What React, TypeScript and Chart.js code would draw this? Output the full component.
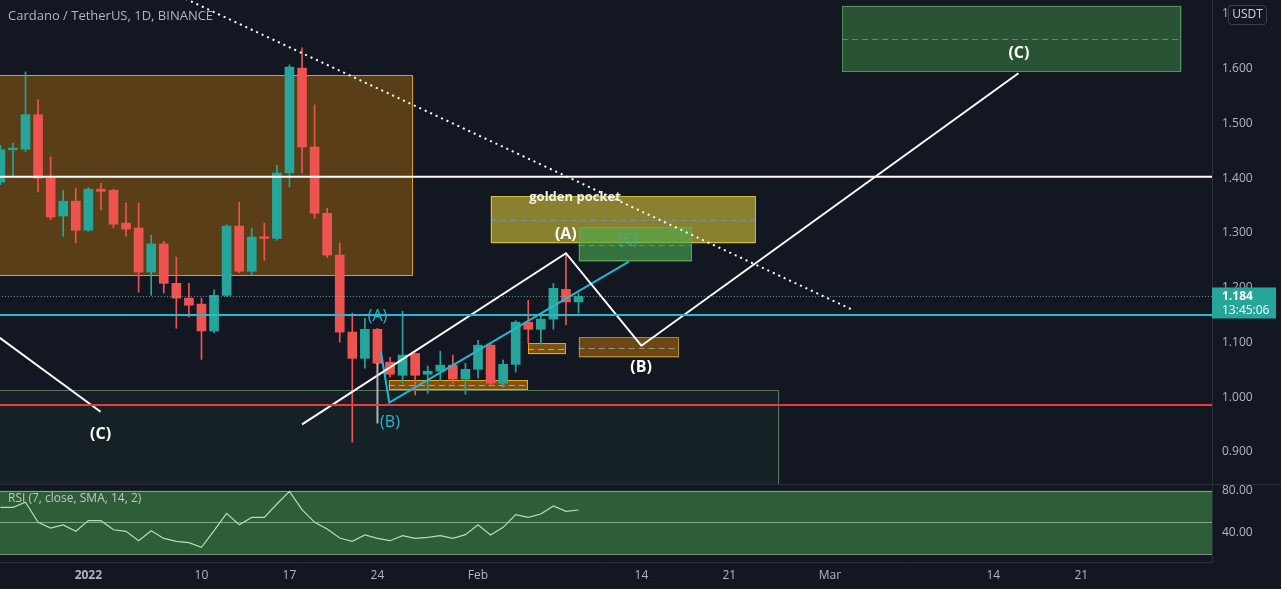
import React, { useEffect, useRef } from 'react';
import { Chart, registerables } from 'chart.js';

Chart.register(...registerables);

// ---------- data ----------
const DATES = [
  '2021-12-25', '2021-12-26', '2021-12-27', '2021-12-28', '2021-12-29', '2021-12-30', '2021-12-31',
  '2022-01-01', '2022-01-02', '2022-01-03', '2022-01-04', '2022-01-05', '2022-01-06', '2022-01-07',
  '2022-01-08', '2022-01-09', '2022-01-10', '2022-01-11', '2022-01-12', '2022-01-13', '2022-01-14',
  '2022-01-15', '2022-01-16', '2022-01-17', '2022-01-18', '2022-01-19', '2022-01-20', '2022-01-21',
  '2022-01-22', '2022-01-23', '2022-01-24', '2022-01-25', '2022-01-26', '2022-01-27', '2022-01-28',
  '2022-01-29', '2022-01-30', '2022-01-31', '2022-02-01', '2022-02-02', '2022-02-03', '2022-02-04',
  '2022-02-05', '2022-02-06', '2022-02-07', '2022-02-08', '2022-02-09',
];
const OPEN = [
  1.393, 1.452, 1.453, 1.516, 1.400, 1.331, 1.358,
  1.305, 1.380, 1.378, 1.318, 1.309, 1.2285, 1.280, 1.208, 1.181, 1.170, 1.121, 1.186, 1.3126, 1.230,
  1.293, 1.290, 1.4095, 1.601, 1.457, 1.336, 1.2596, 1.119, 1.071, 1.124, 1.064, 1.040, 1.080, 1.042,
  1.0475, 1.0585, 1.033,
  1.051, 1.095, 1.0256, 1.060, 1.137, 1.124, 1.1426, 1.197, 1.174,
];
const HIGH = [
  1.460, 1.464, 1.594, 1.543, 1.439, 1.378, 1.382,
  1.383, 1.391, 1.380, 1.355, 1.355, 1.296, 1.285, 1.256, 1.208, 1.181, 1.196, 1.315, 1.356, 1.309,
  1.318, 1.424, 1.607, 1.638, 1.534, 1.345, 1.2815, 1.1536, 1.144, 1.126, 1.073, 1.157, 1.081, 1.057,
  1.084, 1.077, 1.062,
  1.104, 1.0987, 1.068, 1.140, 1.177, 1.152, 1.208, 1.263, 1.190,
];
const LOW = [
  1.388, 1.402, 1.448, 1.375, 1.324, 1.294, 1.282,
  1.303, 1.342, 1.309, 1.294, 1.192, 1.186, 1.190, 1.126, 1.146, 1.069, 1.118, 1.184, 1.227, 1.223,
  1.250, 1.287, 1.384, 1.4095, 1.327, 1.255, 1.1005, 0.918, 1.053, 1.060, 1.037, 1.0256, 1.004, 1.007,
  1.031, 1.0256, 1.0055,
  1.035, 1.022, 1.018, 1.046, 1.0987, 1.097, 1.124, 1.132, 1.1536,
];
const CLOSE = [
  1.452, 1.455, 1.516, 1.400, 1.329, 1.358, 1.305,
  1.380, 1.376, 1.316, 1.307, 1.2285, 1.280, 1.208, 1.181, 1.168, 1.121, 1.186, 1.3126, 1.230, 1.2925,
  1.290, 1.4095, 1.603, 1.457, 1.336, 1.2596, 1.119, 1.071, 1.124, 1.062, 1.042, 1.077, 1.040, 1.0475,
  1.0585, 1.033, 1.051,
  1.095, 1.0256, 1.060, 1.137, 1.124, 1.1426, 1.199, 1.174, 1.184,
];
const RSI = [
  64.2, 64.2, 69.0, 50.0, 44.6, 47.5, 41.5,
  51.6, 51.6, 43.0, 41.5, 32.6, 42.1, 34.8, 32.0, 30.7, 26.3, 42.1, 58.5, 47.8, 54.7,
  54.7, 67.4, 79.4, 62.0, 50.0, 43.7, 35.1, 32.0, 38.0, 34.8, 32.6, 37.4, 34.8, 35.8,
  37.4, 34.8, 38.3,
  47.8, 38.0, 45.3, 57.3, 54.7, 57.9, 65.5, 60.4, 61.7,
];

// time axis (day offsets from first candle)
const TIME_TICK_DATES = ['2022-01-01', '2022-01-10', '2022-01-17', '2022-01-24', '2022-02-01', '2022-02-14', '2022-02-21', '2022-03-01', '2022-03-14', '2022-03-21'];
const TIME_LABELS = ['2022', '10', '17', '24', 'Feb', '14', '21', 'Mar', '14', '21'];
const PRICE_TICKS = [0.9, 1.0, 1.1, 1.2, 1.3, 1.4, 1.5, 1.6, 1.7];
const RSI_TICKS = [40, 80];
const RSI_BANDS = [20, 50, 80];

// drawings (x in days from first candle, y in price)
const H_WHITE = 1.4027;
const H_CYAN = 1.150;
const H_RED = 0.9857;
const WAVE_X = [24.0, 45, 51, 81];
const WAVE_Y = [0.9505, 1.263, 1.0941, 1.5916];
const CYAN_WAVE_X = [30.28, 30.94, 50];
const CYAN_WAVE_Y = [1.0826, 0.990, 1.2475];
const LEFT_LEG_X = [-1, 7.97];
const LEFT_LEG_Y = [1.1246, 0.9734];
const TREND_X = [13, 67.83];
const TREND_Y = [1.7462, 1.1593];
const GRAY_WICK_X = [30, 30];
const GRAY_WICK_Y = [1.062, 0.952];

// zones: [dayFrom, dayTo, priceTop, priceBottom]
const ZONE_RANGE = [-2, 32.83, 1.5885, 1.2214];
const ZONE_SUPPORT = [-2, 61.99, 1.0132, 0.80];
const ZONE_GOLDEN = [39.01, 60.06, 1.3675, 1.2811];
const ZONE_C_SMALL = [46.01, 55.03, 1.3103, 1.2475];
const ZONE_OB1 = [30.9, 41.98, 1.0314, 1.0132];
const ZONE_OB2 = [42.0, 45.0, 1.0984, 1.0784];
const ZONE_B = [46.01, 53.99, 1.1094, 1.0721];
const ZONE_C_TARGET = [66.98, 93.99, 1.7151, 1.594];

const LABEL_TEXT = ['(A)', '(B)', '(C)', '(C)', '(A)', '(B)', '(C)', 'golden pocket'];
const LABEL_X = [44.99, 50.97, 81.04, 7.97, 30.0, 31.0, 49.93, 45.72];
const LABEL_Y = [1.2981, 1.0542, 1.6287, 0.9328, 1.1474, 0.9538, 1.2862, 1.3647];

const LAST_COUNTDOWN = '13:45:06';
const TITLE = 'Cardano / TetherUS, 1D, BINANCE';
const RSI_TITLE = 'RSI (7, close, SMA, 14, 2)';

// ---------- layout constants ----------
const W = 1281;
const PRICE_H = 484;
const RSI_H = 104;
const AXIS_W = 69;
const X_MIN = -0.03;
const X_MAX = 96.4;
const P_MIN = 0.8415;
const P_MAX = 1.7255;
const R_MIN = 12.42;
const R_MAX = 85.4;

const BG = '#131722';
const UP = '#26a69a';
const DOWN = '#ef5350';
const TEXT = '#b2b5be';
const FONT = "'Open Sans', 'Noto Sans', 'DejaVu Sans', sans-serif";

const DAY = 86400000;
const t0 = Date.parse(DATES[0]);
const dayOf = (s: string) => (Date.parse(s) - t0) / DAY;

const fitY = (s: any) => {
  s.width = AXIS_W;
  s.paddingTop = 0;
  s.paddingBottom = 0;
};
const fitX = (s: any) => {
  s.height = 27;
  s.paddingLeft = 0;
  s.paddingRight = 0;
};

const zonesPlugin = {
  id: 'zones',
  beforeDatasetsDraw(chart: any) {
    const { ctx, chartArea: a, scales } = chart;
    const x = scales.x, y = scales.y;
    ctx.save();
    ctx.beginPath();
    ctx.rect(a.left, a.top, a.right - a.left, a.bottom - a.top);
    ctx.clip();
    const zones: [number[], string, string, string | null][] = [
      [ZONE_SUPPORT, 'rgba(76,175,80,0.07)', 'rgba(130,175,130,0.6)', null],
      [ZONE_RANGE, 'rgba(255,152,0,0.30)', 'rgba(240,180,20,0.85)', 'rgba(190,190,190,0.6)'],
      [ZONE_GOLDEN, 'rgba(255,235,59,0.50)', 'rgba(215,205,50,0.9)', 'rgba(110,150,190,0.8)'],
      [ZONE_C_SMALL, 'rgba(76,175,80,0.60)', 'rgba(90,180,90,0.8)', 'rgba(110,150,190,0.8)'],
      [ZONE_OB1, 'rgba(255,152,0,0.45)', 'rgba(240,180,20,0.9)', 'rgba(200,200,200,0.7)'],
      [ZONE_OB2, 'rgba(255,152,0,0.45)', 'rgba(240,180,20,0.9)', 'rgba(200,200,200,0.7)'],
      [ZONE_B, 'rgba(255,152,0,0.38)', 'rgba(200,160,40,0.8)', 'rgba(170,180,190,0.7)'],
      [ZONE_C_TARGET, 'rgba(76,175,80,0.40)', 'rgba(100,160,110,0.8)', 'rgba(80,160,190,0.8)'],
    ];
    zones.forEach(([z, fill, border, mid]) => {
      const l = x.getPixelForValue(z[0]);
      const r = x.getPixelForValue(z[1]);
      const t = y.getPixelForValue(z[2]);
      const b = y.getPixelForValue(z[3]);
      ctx.fillStyle = fill;
      ctx.fillRect(l, t, r - l, b - t);
      ctx.strokeStyle = border;
      ctx.lineWidth = 1;
      ctx.strokeRect(Math.round(l) + 0.5, Math.round(t) + 0.5, Math.round(r - l) - 1, Math.round(b - t) - 1);
      if (mid) {
        const m = Math.round(y.getPixelForValue((z[2] + z[3]) / 2)) + 0.5;
        ctx.strokeStyle = mid;
        ctx.setLineDash([6, 4]);
        ctx.beginPath();
        ctx.moveTo(l, m);
        ctx.lineTo(r, m);
        ctx.stroke();
        ctx.setLineDash([]);
      }
    });
    ctx.restore();
  },
};

const labelsPlugin = {
  id: 'labels',
  afterDatasetsDraw(chart: any) {
    const { ctx, scales } = chart;
    const x = scales.x, y = scales.y;
    ctx.save();
    ctx.textAlign = 'center';
    ctx.textBaseline = 'middle';
    LABEL_TEXT.forEach((t, i) => {
      const px = x.getPixelForValue(LABEL_X[i]);
      const py = y.getPixelForValue(LABEL_Y[i]);
      if (i < 4) {
        ctx.font = `bold 16px ${FONT}`;
        ctx.fillStyle = '#ffffff';
      } else if (i < 6) {
        ctx.font = `16px ${FONT}`;
        ctx.fillStyle = '#22b8d0';
      } else if (i === 6) {
        ctx.font = `16px ${FONT}`;
        ctx.fillStyle = 'rgba(34,184,208,0.55)';
      } else {
        ctx.font = `bold 13px ${FONT}`;
        ctx.fillStyle = '#f2f2f2';
      }
      ctx.fillText(t, px, py);
    });
    // title
    ctx.textAlign = 'left';
    ctx.font = `13px ${FONT}`;
    ctx.fillStyle = TEXT;
    ctx.fillText(TITLE, 8, 16);
    ctx.restore();
  },
  afterDraw(chart: any) {
    const { ctx, scales } = chart;
    const y = scales.y;
    const a = chart.chartArea;
    ctx.save();
    // currency box
    ctx.fillStyle = BG;
    ctx.strokeStyle = '#3a3e4a';
    ctx.lineWidth = 1;
    ctx.beginPath();
    (ctx as any).roundRect(1228.5, 5.5, 38, 19, 3);
    ctx.fill();
    ctx.stroke();
    ctx.fillStyle = '#d1d4dc';
    ctx.font = `12px ${FONT}`;
    ctx.textAlign = 'center';
    ctx.textBaseline = 'middle';
    ctx.fillText('USDT', 1247.5, 15);
    // last price label
    const last = CLOSE[CLOSE.length - 1];
    const py = y.getPixelForValue(last);
    ctx.fillStyle = UP;
    ctx.fillRect(a.right, py - 9, 64, 31);
    ctx.fillStyle = '#ffffff';
    ctx.textAlign = 'left';
    ctx.font = `bold 12px ${FONT}`;
    ctx.fillText(last.toFixed(3), a.right + 10, py);
    ctx.font = `12px ${FONT}`;
    ctx.fillText(LAST_COUNTDOWN, a.right + 10, py + 14);
    ctx.restore();
  },
};

const rsiPlugin = {
  id: 'rsiPane',
  beforeDatasetsDraw(chart: any) {
    const { ctx, chartArea: a, scales } = chart;
    const y = scales.y;
    const top = y.getPixelForValue(RSI_BANDS[2]);
    const bot = y.getPixelForValue(RSI_BANDS[0]);
    ctx.save();
    ctx.fillStyle = 'rgba(76,175,80,0.47)';
    ctx.fillRect(a.left, top, a.right - a.left, bot - top);
    ctx.strokeStyle = 'rgba(195,215,195,0.6)';
    ctx.lineWidth = 1;
    RSI_BANDS.forEach((v) => {
      const p = Math.round(y.getPixelForValue(v)) + 0.5;
      ctx.beginPath();
      ctx.moveTo(a.left, p);
      ctx.lineTo(a.right, p);
      ctx.stroke();
    });
    ctx.restore();
  },
  afterDatasetsDraw(chart: any) {
    const { ctx } = chart;
    ctx.save();
    ctx.font = `12px ${FONT}`;
    ctx.fillStyle = '#c0c6c4';
    ctx.textAlign = 'left';
    ctx.textBaseline = 'middle';
    ctx.fillText(RSI_TITLE, 8, 14);
    ctx.restore();
  },
};

function lineDs(xs: number[], ys: number[], color: string, width: number, dash: number[] = []) {
  return {
    type: 'line' as const,
    data: xs.map((x, i) => ({ x, y: ys[i] })),
    borderColor: color,
    borderWidth: width,
    borderDash: dash,
    pointRadius: 0,
    fill: false,
    tension: 0,
    order: 1,
  };
}

export default function App() {
  const priceRef = useRef<HTMLCanvasElement | null>(null);
  const rsiRef = useRef<HTMLCanvasElement | null>(null);

  useEffect(() => {
    document.body.style.margin = '0';
    document.body.style.background = BG;
    const days = DATES.map(dayOf);
    const colors = OPEN.map((o, i) => (CLOSE[i] >= o ? UP : DOWN));
    const bodies = days.map((d, i) => ({ x: d, y: [OPEN[i], CLOSE[i]] }));
    const wicks = days.map((d, i) => ({ x: d, y: [LOW[i], HIGH[i]] }));
    const lastPrice = CLOSE[CLOSE.length - 1];

    const priceChart = new Chart(priceRef.current as HTMLCanvasElement, {
      type: 'bar',
      data: {
        datasets: [
          { type: 'bar', data: wicks as any, backgroundColor: colors, barThickness: 1, grouped: false, order: 21, borderWidth: 0 } as any,
          { type: 'bar', data: bodies as any, backgroundColor: colors, barThickness: 9, grouped: false, order: 20, borderWidth: 0, minBarLength: 1 } as any,
          lineDs([X_MIN - 2, X_MAX + 2], [lastPrice, lastPrice], 'rgba(120,190,185,0.8)', 1, [1, 2]),
          lineDs([X_MIN - 2, X_MAX + 2], [H_WHITE, H_WHITE], '#ffffff', 2),
          lineDs([X_MIN - 2, X_MAX + 2], [H_CYAN, H_CYAN], '#1fbcd2', 2),
          lineDs([X_MIN - 2, X_MAX + 2], [H_RED, H_RED], '#f23645', 2),
          lineDs(GRAY_WICK_X, GRAY_WICK_Y, 'rgba(200,200,205,0.85)', 2),
          lineDs(TREND_X, TREND_Y, '#ffffff', 2, [2, 4]),
          lineDs(LEFT_LEG_X, LEFT_LEG_Y, '#ffffff', 2),
          lineDs(WAVE_X, WAVE_Y, '#ffffff', 2),
          lineDs(CYAN_WAVE_X, CYAN_WAVE_Y, '#1fb8d0', 2),
        ],
      },
      options: {
        responsive: false,
        animation: false,
        layout: { padding: 0 },
        plugins: { legend: { display: false }, tooltip: { enabled: false } },
        scales: {
          x: { type: 'linear', min: X_MIN, max: X_MAX, display: false, offset: false },
          y: {
            type: 'linear',
            position: 'right',
            min: P_MIN,
            max: P_MAX,
            afterBuildTicks: (s: any) => { s.ticks = PRICE_TICKS.map((v) => ({ value: v })); },
            afterFit: fitY,
            grid: { display: false, drawTicks: false },
            border: { display: true, color: '#2a2e39' },
            ticks: { color: TEXT, font: { size: 12, family: FONT }, padding: 10, autoSkip: false, callback: (v: any) => Number(v).toFixed(3) },
          },
        },
      } as any,
      plugins: [zonesPlugin, labelsPlugin],
    });

    const rsiChart = new Chart(rsiRef.current as HTMLCanvasElement, {
      type: 'line',
      data: {
        datasets: [
          {
            data: days.map((d, i) => ({ x: d, y: RSI[i] })),
            borderColor: '#b4e0b0',
            borderWidth: 1.2,
            pointRadius: 0,
            tension: 0,
            fill: false,
          },
        ],
      },
      options: {
        responsive: false,
        animation: false,
        layout: { padding: 0 },
        plugins: { legend: { display: false }, tooltip: { enabled: false } },
        scales: {
          x: {
            type: 'linear',
            min: X_MIN,
            max: X_MAX,
            offset: false,
            afterBuildTicks: (s: any) => { s.ticks = TIME_TICK_DATES.map((d) => ({ value: dayOf(d) })); },
            afterFit: fitX,
            grid: { display: false, drawTicks: false },
            border: { display: true, color: '#2a2e39' },
            ticks: {
              autoSkip: false,
              maxRotation: 0,
              color: TEXT,
              padding: 6,
              font: (c: any) => ({ size: 12, family: FONT, weight: c.index === 0 ? 'bold' : 'normal' }),
              callback: (_v: any, i: number) => TIME_LABELS[i],
            },
          },
          y: {
            type: 'linear',
            position: 'right',
            min: R_MIN,
            max: R_MAX,
            afterBuildTicks: (s: any) => { s.ticks = RSI_TICKS.map((v) => ({ value: v })); },
            afterFit: fitY,
            grid: { display: false, drawTicks: false },
            border: { display: true, color: '#2a2e39' },
            ticks: { color: TEXT, font: { size: 12, family: FONT }, padding: 10, autoSkip: false, callback: (v: any) => Number(v).toFixed(2) },
          },
        },
      } as any,
      plugins: [rsiPlugin],
    });

    return () => {
      priceChart.destroy();
      rsiChart.destroy();
    };
  }, []);

  return (
    <div style={{ position: 'relative', width: W, height: PRICE_H + 1 + RSI_H, background: BG, overflow: 'hidden' }}>
      <canvas ref={priceRef} width={W} height={PRICE_H} style={{ position: 'absolute', left: 0, top: 0 }} />
      <div style={{ position: 'absolute', left: 0, top: PRICE_H, width: W, height: 1, background: '#2a2e39' }} />
      <canvas ref={rsiRef} width={W} height={RSI_H} style={{ position: 'absolute', left: 0, top: PRICE_H + 1 }} />
    </div>
  );
}
